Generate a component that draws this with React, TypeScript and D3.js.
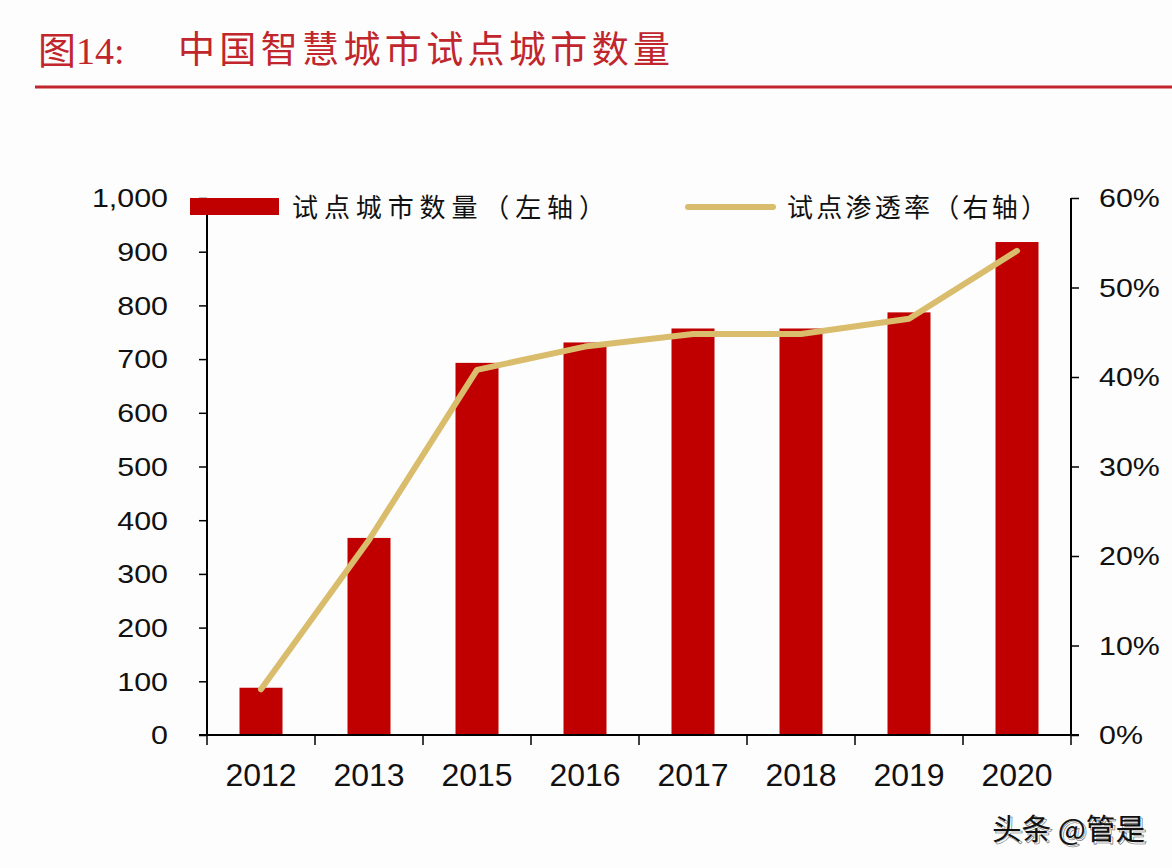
import React, { useEffect, useRef } from "react";
import * as d3 from "d3";

const categories = ["2012", "2013", "2015", "2016", "2017", "2018", "2019", "2020"];
const pilotCities = [88, 367, 693, 731, 757, 757, 787, 918];
const penetration = [5.1, 21.8, 40.8, 43.4, 44.8, 44.8, 46.5, 54.1];
const leftTicks = [0, 100, 200, 300, 400, 500, 600, 700, 800, 900, 1000];
const rightTicks = [0, 10, 20, 30, 40, 50, 60];
const titleLabel = "图14:";
const titleText = "中国智慧城市试点城市数量";
const legendBar = "试点城市数量（左轴）";
const legendLine = "试点渗透率（右轴）";
const watermark = "头条 @管是";

const W = 1172;
const H = 868;
const RED = "#c00000";
const GOLD = "#d9bd6c";
const TITLE_RED = "#c0262c";

export default function App() {
  const ref = useRef<SVGSVGElement | null>(null);

  useEffect(() => {
    const svg = d3.select(ref.current);
    svg.selectAll("*").remove();

    svg.append("rect").attr("width", W).attr("height", H).attr("fill", "#fdfdfd");

    // Title
    svg.append("text")
      .attr("x", 38).attr("y", 64)
      .attr("font-family", "'Liberation Serif','Noto Sans CJK SC',serif")
      .attr("font-size", 38).attr("fill", TITLE_RED)
      .text(titleLabel);
    svg.append("text")
      .attr("x", 178).attr("y", 63)
      .attr("font-family", "'Noto Sans CJK SC',sans-serif")
      .attr("font-size", 37).attr("fill", TITLE_RED)
      .attr("textLength", 492).attr("lengthAdjust", "spacing")
      .text(titleText);
    svg.append("line")
      .attr("x1", 35).attr("x2", W).attr("y1", 87).attr("y2", 87)
      .attr("stroke", TITLE_RED).attr("stroke-width", 3);

    const left = 207, right = 1071, top = 198, bottom = 735;
    const xBand = d3.scaleBand<string>().domain(categories).range([left, right]);
    const yL = d3.scaleLinear().domain([0, 1000]).range([bottom, top]);
    const yR = d3.scaleLinear().domain([0, 60]).range([bottom, top]);

    // bars
    svg.append("g").selectAll("rect").data(categories).enter().append("rect")
      .attr("x", (d) => (xBand(d) as number) + xBand.bandwidth() / 2 - 21.5)
      .attr("width", 43)
      .attr("y", (_d, i) => yL(pilotCities[i]))
      .attr("height", (_d, i) => bottom - yL(pilotCities[i]))
      .attr("fill", RED);

    // line
    const line = d3.line<number>()
      .x((_d, i) => (xBand(categories[i]) as number) + xBand.bandwidth() / 2)
      .y((d) => yR(d));
    svg.append("path").datum(penetration)
      .attr("d", line)
      .attr("fill", "none").attr("stroke", GOLD).attr("stroke-width", 6)
      .attr("stroke-linecap", "round").attr("stroke-linejoin", "round");

    const axisFont = "'Liberation Sans',Arial,sans-serif";

    // left axis
    const gL = svg.append("g").attr("transform", `translate(${left},0)`)
      .call(d3.axisLeft(yL).tickValues(leftTicks).tickSize(8).tickFormat(() => ""));
    gL.select(".domain").attr("stroke", "#000").attr("stroke-width", 2).attr("d", `M0,${top}V${bottom}`);
    gL.selectAll(".tick line").attr("stroke", "#000").attr("stroke-width", 1.5);
    svg.append("g").selectAll("text").data(leftTicks).enter().append("text")
      .attr("transform", (d) => `translate(168,${yL(d)}) scale(1.17,1)`)
      .attr("dy", "0.36em").attr("text-anchor", "end")
      .attr("font-family", axisFont).attr("font-size", 26).attr("fill", "#111")
      .text((d) => d3.format(",")(d));

    // right axis
    const gR = svg.append("g").attr("transform", `translate(${right},0)`)
      .call(d3.axisRight(yR).tickValues(rightTicks).tickSize(8).tickFormat(() => ""));
    gR.select(".domain").attr("stroke", "#000").attr("stroke-width", 2).attr("d", `M0,${top}V${bottom}`);
    gR.selectAll(".tick line").attr("stroke", "#000").attr("stroke-width", 1.5);
    svg.append("g").selectAll("text").data(rightTicks).enter().append("text")
      .attr("transform", (d) => `translate(1099,${yR(d)}) scale(1.17,1)`)
      .attr("dy", "0.36em").attr("text-anchor", "start")
      .attr("font-family", axisFont).attr("font-size", 26).attr("fill", "#111")
      .text((d) => `${d}%`);

    // x axis
    svg.append("line").attr("x1", left - 8).attr("x2", right + 8).attr("y1", bottom).attr("y2", bottom)
      .attr("stroke", "#000").attr("stroke-width", 2);
    const bounds = [...categories.map((c) => xBand(c) as number), right];
    svg.append("g").selectAll("line").data(bounds).enter().append("line")
      .attr("x1", (d) => d).attr("x2", (d) => d)
      .attr("y1", bottom).attr("y2", bottom + 10)
      .attr("stroke", "#000").attr("stroke-width", 1.5);
    svg.append("g").selectAll("text").data(categories).enter().append("text")
      .attr("x", (d) => (xBand(d) as number) + xBand.bandwidth() / 2)
      .attr("y", 786)
      .attr("text-anchor", "middle")
      .attr("font-family", axisFont).attr("font-size", 32).attr("fill", "#111")
      .text((d) => d);

    // legend
    svg.append("rect").attr("x", 190).attr("y", 198).attr("width", 89).attr("height", 17).attr("fill", RED);
    svg.append("text").attr("x", 292).attr("y", 217)
      .attr("font-family", "'Noto Sans CJK SC',sans-serif").attr("font-size", 26).attr("fill", "#111")
      .attr("textLength", 313).attr("lengthAdjust", "spacing")
      .text(legendBar);
    svg.append("line").attr("x1", 688).attr("x2", 773).attr("y1", 207).attr("y2", 207)
      .attr("stroke", GOLD).attr("stroke-width", 6).attr("stroke-linecap", "round");
    svg.append("text").attr("x", 787).attr("y", 217)
      .attr("font-family", "'Noto Sans CJK SC',sans-serif").attr("font-size", 26).attr("fill", "#111")
      .attr("textLength", 260).attr("lengthAdjust", "spacing")
      .text(legendLine);

    // watermark
    svg.append("text").attr("x", 994).attr("y", 842)
      .attr("font-family", "'Noto Sans CJK SC',sans-serif").attr("font-size", 29).attr("fill", "#fff")
      .attr("stroke", "#666").attr("stroke-width", 0.6)
      .attr("textLength", 153).attr("lengthAdjust", "spacingAndGlyphs")
      .text(watermark);
    svg.append("text").attr("x", 992).attr("y", 840)
      .attr("font-family", "'Noto Sans CJK SC',sans-serif").attr("font-size", 29).attr("fill", "#111")
      .attr("textLength", 153).attr("lengthAdjust", "spacingAndGlyphs")
      .text(watermark);
  }, []);

  return (
    <svg ref={ref} width={W} height={H} style={{ display: "block", position: "absolute", left: 0, top: 0 }} />
  );
}
